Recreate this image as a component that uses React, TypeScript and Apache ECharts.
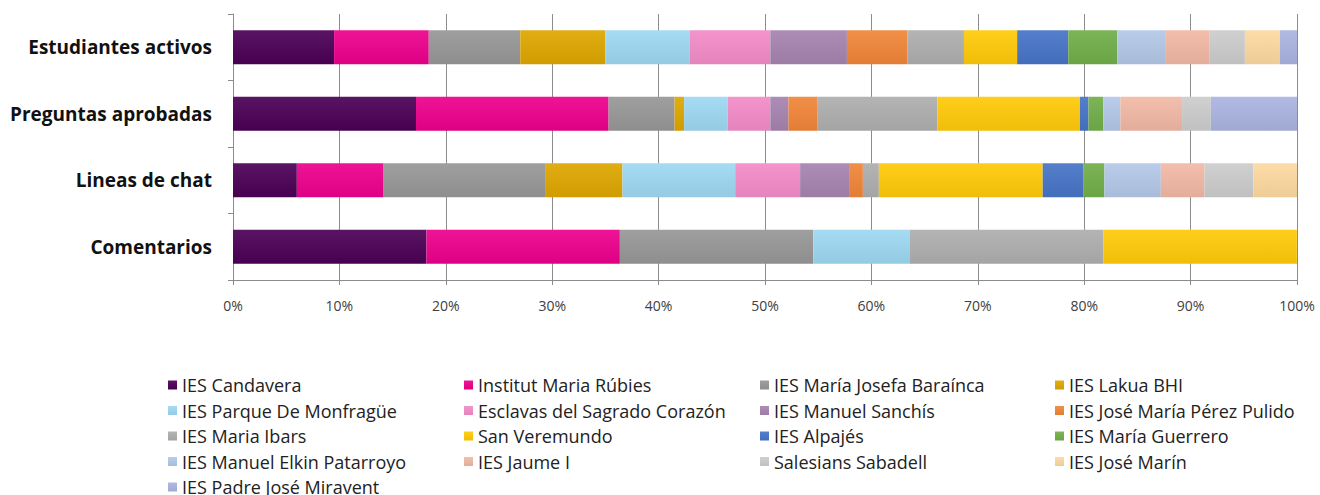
import React, { useEffect, useRef } from "react";
import * as echarts from "echarts";

const categories = ["Estudiantes activos", "Preguntas aprobadas", "Lineas de chat", "Comentarios"];
const xTicks = [0, 10, 20, 30, 40, 50, 60, 70, 80, 90, 100];

const schools = [
  "IES Candavera",
  "Institut Maria Rúbies",
  "IES María Josefa Baraínca",
  "IES Lakua BHI",
  "IES Parque De Monfragüe",
  "Esclavas del Sagrado Corazón",
  "IES Manuel Sanchís",
  "IES José María Pérez Pulido",
  "IES Maria Ibars",
  "San Veremundo",
  "IES Alpajés",
  "IES María Guerrero",
  "IES Manuel Elkin Patarroyo",
  "IES Jaume I",
  "Salesians Sabadell",
  "IES José Marín",
  "IES Padre José Miravent",
];

// values per school: [Estudiantes activos, Preguntas aprobadas, Lineas de chat, Comentarios] (%)
const candavera = [9.5, 17.2, 6.0, 18.18];
const rubies = [8.9, 18.1, 8.1, 18.18];
const barainca = [8.6, 6.2, 15.3, 18.18];
const lakua = [8.0, 0.9, 7.2, 0];
const monfrague = [7.9, 4.1, 10.6, 9.09];
const esclavas = [7.6, 4.0, 6.1, 0];
const sanchis = [7.2, 1.7, 4.6, 0];
const perezPulido = [5.7, 2.7, 1.3, 0];
const ibars = [5.3, 11.3, 1.5, 18.18];
const veremundo = [5.0, 13.4, 15.4, 18.18];
const alpajes = [4.8, 0.8, 3.8, 0];
const guerrero = [4.6, 1.4, 2.0, 0];
const elkin = [4.5, 1.6, 5.3, 0];
const jaume = [4.2, 5.8, 4.1, 0];
const salesians = [3.3, 2.7, 4.6, 0];
const marin = [3.3, 0, 4.1, 0];
const miravent = [1.6, 8.1, 0, 0];

const seriesValues = [
  candavera, rubies, barainca, lakua, monfrague, esclavas, sanchis, perezPulido,
  ibars, veremundo, alpajes, guerrero, elkin, jaume, salesians, marin, miravent,
];

const colors = [
  "#4B0055", "#EC008C", "#979797", "#DDA600", "#9DD8F2", "#F38BC8", "#A683B0", "#F08538",
  "#AEAEAE", "#FFCA08", "#4674C6", "#71AE48", "#B3C8E8", "#F2B8A5", "#CCCCCC", "#FDD9A0", "#A9B4E0",
];

function shade(hex: string, f: number): string {
  const n = parseInt(hex.slice(1), 16);
  let r = (n >> 16) & 255, g = (n >> 8) & 255, b = n & 255;
  const adj = (c: number) => Math.max(0, Math.min(255, Math.round(f >= 0 ? c + (255 - c) * f : c * (1 + f))));
  r = adj(r); g = adj(g); b = adj(b);
  return "#" + ((1 << 24) + (r << 16) + (g << 8) + b).toString(16).slice(1);
}

const FONT = "Open Sans";

export default function App() {
  const ref = useRef<HTMLDivElement>(null);
  useEffect(() => {
    if (!ref.current) return;
    const chart = echarts.init(ref.current, undefined, { renderer: "svg" });
    const columns = [0, 1, 2, 3].map((c) => schools.filter((_, i) => i % 4 === c));
    const colX = [168, 464, 760, 1055];
    chart.setOption({
      animation: false,
      backgroundColor: "#ffffff",
      color: colors,
      grid: { left: 233, right: 23, top: 14, height: 266, containLabel: false },
      xAxis: {
        type: "value",
        min: 0,
        max: 100,
        interval: 10,
        axisLine: { show: true, lineStyle: { color: "#8c8c8c", width: 1 } },
        axisTick: { show: true, length: 5, lineStyle: { color: "#8c8c8c" } },
        splitLine: { show: true, lineStyle: { color: "#8c8c8c", width: 1 } },
        axisLabel: {
          formatter: "{value}%",
          color: "#404040",
          fontFamily: FONT,
          fontSize: 14,
          margin: 18,
        },
      },
      yAxis: {
        type: "category",
        data: categories,
        inverse: true,
        axisLine: { show: true, lineStyle: { color: "#8c8c8c", width: 1 } },
        axisTick: { show: true, length: 5, lineStyle: { color: "#8c8c8c" } },
        axisLabel: {
          color: "#111111",
          fontFamily: FONT,
          fontWeight: "bold",
          fontSize: 19,
          margin: 21,
        },
      },
      legend: columns.map((names, c) => ({
        orient: "vertical",
        left: colX[c],
        top: 375,
        height: 160,
        padding: 0,
        itemWidth: 9,
        itemHeight: 9,
        itemGap: 5.5,
        icon: "rect",
        data: names,
        selectedMode: false,
        textStyle: { fontFamily: FONT, fontSize: 18, color: "#222222", lineHeight: 20 },
      })),
      series: schools.map((name, i) => ({
        name,
        type: "bar",
        stack: "total",
        barWidth: 34,
        data: seriesValues[i],
        itemStyle: {
          color: new echarts.graphic.LinearGradient(0, 0, 0, 1, [
            { offset: 0, color: shade(colors[i], 0.08) },
            { offset: 1, color: shade(colors[i], -0.06) },
          ]),
        },
        emphasis: { disabled: true },
      })),
    });
    return () => chart.dispose();
  }, []);
  return (
    <div
      ref={ref}
      style={{ position: "fixed", left: 0, top: 0, width: 1320, height: 495 }}
    />
  );
}
